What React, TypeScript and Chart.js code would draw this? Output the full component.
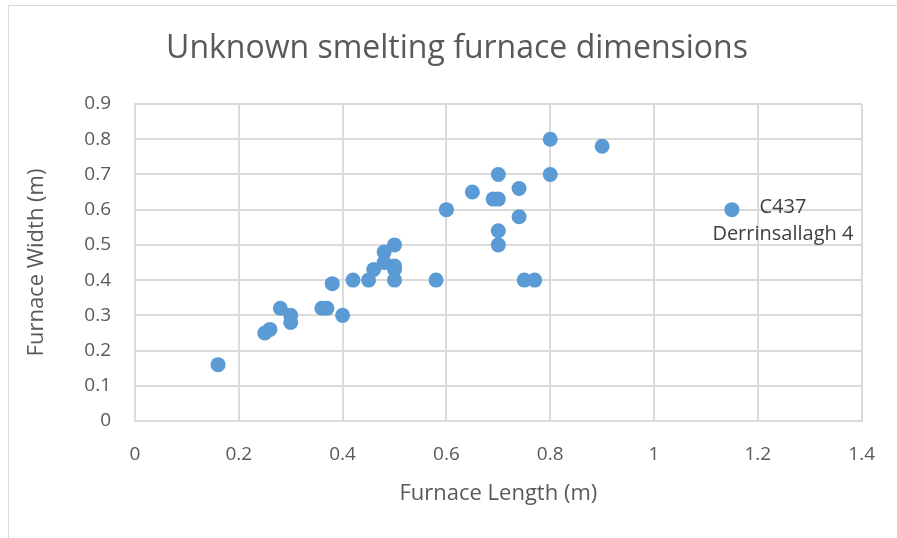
import React, { useEffect, useRef } from "react";
import { Chart, registerables } from "chart.js";

Chart.register(...registerables);

const TITLE = "Unknown smelting furnace dimensions";
const X_TITLE = "Furnace Length (m)";
const Y_TITLE = "Furnace Width (m)";

const furnaceLength = [
  0.16, 0.25, 0.26, 0.28, 0.3, 0.3, 0.36, 0.37, 0.38, 0.4, 0.42, 0.45, 0.46,
  0.48, 0.48, 0.5, 0.5, 0.5, 0.5, 0.58, 0.6, 0.65, 0.69, 0.7, 0.7, 0.7, 0.7,
  0.74, 0.74, 0.75, 0.77, 0.8, 0.8, 0.9, 1.15,
];
const furnaceWidth = [
  0.16, 0.25, 0.26, 0.32, 0.3, 0.28, 0.32, 0.32, 0.39, 0.3, 0.4, 0.4, 0.43,
  0.45, 0.48, 0.5, 0.44, 0.43, 0.4, 0.4, 0.6, 0.65, 0.63, 0.63, 0.7, 0.54, 0.5,
  0.66, 0.58, 0.4, 0.4, 0.8, 0.7, 0.78, 0.6,
];
const labelledIndex = 34;
const labelLines = ["C437", "Derrinsallagh 4"];

const FONT = "'Open Sans', sans-serif";
const TEXT = "#595959";
const GRID = "#DADADA";
const POINT = "#5B9BD5";

const decorPlugin = {
  id: "decor",
  beforeDraw(chart: any) {
    const ctx = chart.ctx;
    ctx.save();
    ctx.strokeStyle = GRID;
    ctx.lineWidth = 1;
    ctx.beginPath();
    ctx.moveTo(8.5, 538);
    ctx.lineTo(8.5, 5.5);
    ctx.lineTo(897, 5.5);
    ctx.stroke();
    ctx.fillStyle = TEXT;
    ctx.font = `32px ${FONT}`;
    ctx.textAlign = "center";
    ctx.textBaseline = "middle";
    ctx.fillText(TITLE, 457, 49);
    ctx.restore();
  },
  afterDatasetsDraw(chart: any) {
    const ctx = chart.ctx;
    const xs = chart.scales.x;
    const ys = chart.scales.y;
    const px = xs.getPixelForValue(furnaceLength[labelledIndex]);
    const py = ys.getPixelForValue(furnaceWidth[labelledIndex]);
    ctx.save();
    ctx.fillStyle = "#404040";
    ctx.font = `20px ${FONT}`;
    ctx.textAlign = "center";
    ctx.textBaseline = "middle";
    labelLines.forEach((t, i) => ctx.fillText(t, px + 51, py - 2 + i * 27));
    ctx.restore();
  },
};

export default function App() {
  const ref = useRef<HTMLCanvasElement>(null);
  useEffect(() => {
    if (!ref.current) return;
    const data = furnaceLength.map((x, i) => ({ x, y: furnaceWidth[i] }));
    const chart = new Chart(ref.current, {
      type: "scatter",
      data: {
        datasets: [
          {
            data,
            backgroundColor: POINT,
            borderColor: POINT,
            pointRadius: 7.5,
            pointHoverRadius: 7.5,
            borderWidth: 0,
          },
        ],
      },
      options: {
        responsive: false,
        animation: false,
        layout: { padding: { left: 0, top: 104, right: 34, bottom: 0 } },
        plugins: { legend: { display: false }, tooltip: { enabled: false }, title: { display: false } },
        scales: {
          x: {
            type: "linear",
            min: 0,
            max: 1.4,
            ticks: {
              stepSize: 0.2,
              color: TEXT,
              font: { family: FONT, size: 19 },
              padding: 22,
              callback: (v: any) => String(+Number(v).toFixed(1)),
            },
            grid: { color: GRID, drawTicks: false, lineWidth: 2 },
            border: { color: GRID, width: 2 },
            title: {
              display: true,
              text: X_TITLE,
              color: TEXT,
              font: { family: FONT, size: 22 },
              padding: { bottom: 31, top: 0 },
            },
            afterFit: (s: any) => {
              s.height = 117;
            },
          },
          y: {
            type: "linear",
            min: 0,
            max: 0.9,
            ticks: {
              stepSize: 0.1,
              color: TEXT,
              font: { family: FONT, size: 19 },
              padding: 24,
              callback: (v: any) => String(+Number(v).toFixed(1)),
            },
            grid: { color: GRID, drawTicks: false, lineWidth: 2 },
            border: { color: GRID, width: 2 },
            title: {
              display: true,
              text: Y_TITLE,
              color: TEXT,
              font: { family: FONT, size: 22 },
              padding: { top: 24, bottom: 0 },
            },
            afterFit: (s: any) => {
              s.width = 135;
            },
          },
        },
      },
      plugins: [decorPlugin],
    });
    return () => chart.destroy();
  }, []);
  return (
    <canvas
      ref={ref}
      width={897}
      height={538}
      style={{ position: "absolute", left: 0, top: 0, width: 897, height: 538, display: "block" }}
    />
  );
}
